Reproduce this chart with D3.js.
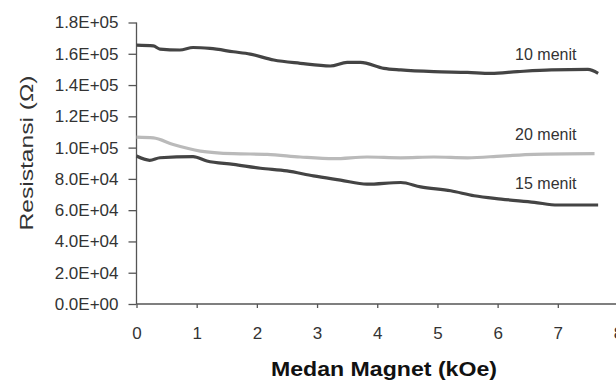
<!DOCTYPE html>
<html>
<head>
<meta charset="utf-8">
<script src="https://cdn.jsdelivr.net/npm/d3@7"></script>
<style>
  body { margin: 0; background: #fff; }
  svg { font-family: "Liberation Sans", Arial, sans-serif; }
  .axis path, .axis line { stroke: #555; stroke-width: 1.3; }
  .axis text { fill: #333; font-size: 17px; }
</style>
</head>
<body>
<div id="chart"></div>
<script>
const chart_width = 616;
const chart_height = 380;

// x values in kOe, y values in ohm
const x_10 = [0, 0.28, 0.39, 0.72, 0.94, 1.22, 1.61, 1.89, 2.28, 2.72, 3.22, 3.5, 3.72, 4.11, 4.39, 4.94, 5.5, 5.89, 6.33, 6.89, 7.5, 7.67];
const y_10 = [165500, 165000, 163000, 162400, 164000, 163400, 161300, 159800, 156000, 153900, 152200, 154500, 154500, 150700, 149700, 148600, 148100, 147500, 148600, 149700, 150000, 147500];

const x_15 = [0, 0.22, 0.39, 0.94, 1.17, 1.61, 2.06, 2.5, 2.94, 3.39, 3.83, 4.39, 4.72, 5.22, 5.61, 6.06, 6.61, 7.0, 7.67];
const y_15 = [94600, 91900, 93500, 94200, 91400, 89300, 86800, 85100, 81900, 79200, 76600, 77700, 74900, 72400, 69200, 67100, 65000, 63300, 63300];

const x_20 = [0, 0.28, 0.61, 1.06, 1.61, 2.17, 2.72, 3.28, 3.83, 4.39, 4.94, 5.5, 6.06, 6.61, 7.61];
const y_20 = [106700, 106200, 102000, 97800, 96100, 95700, 94000, 92900, 94000, 93500, 94000, 93500, 94600, 95700, 96100];

const x_ticks = [0, 1, 2, 3, 4, 5, 6, 7, 8];
const y_ticks = [0, 20000, 40000, 60000, 80000, 100000, 120000, 140000, 160000, 180000];

const series = [
    { name: '10 menit', xs: x_10, ys: y_10, color: '#444', lx: 6.8, ly: 156200 },
    { name: '20 menit', xs: x_20, ys: y_20, color: '#bababa', lx: 6.8, ly: 104800 },
    { name: '15 menit', xs: x_15, ys: y_15, color: '#444', lx: 6.8, ly: 73700 }
];

const svg = d3.select('#chart')
    .append('svg')
    .attr('width', chart_width)
    .attr('height', chart_height);

const x_scale = d3.scaleLinear()
    .domain([0, 8])
    .range([136.5, 618]);

const y_scale = d3.scaleLinear()
    .domain([0, 180000])
    .range([304, 22.5]);

//--------------------------------------------------------------------
// axes
const y_axis = d3.axisLeft(y_scale)
    .tickValues(y_ticks)
    .tickSize(8)
    .tickPadding(10)
    .tickFormat(d => {
        const m = d3.format('.1e')(d).toUpperCase().split('E'); // 1.8E+5
        const exp = +m[1];
        return m[0] + 'E' + (exp < 0 ? '-' : '+') + String(Math.abs(exp)).padStart(2, '0');
    });

svg.append('g')
    .attr('class', 'axis')
    .attr('transform', 'translate(136.5,0)')
    .call(y_axis)
    .call(g => g.select('.domain').attr('d', 'M0,' + y_scale(180000) + 'V' + y_scale(0)));

const x_axis = d3.axisBottom(x_scale)
    .tickValues(x_ticks)
    .tickSize(4)
    .tickPadding(19);

svg.append('g')
    .attr('class', 'axis')
    .attr('transform', 'translate(0,304)')
    .call(x_axis)
    .call(g => g.select('.domain').attr('d', 'M' + x_scale(0) + ',0H616'));

//--------------------------------------------------------------------
// lines
const line = d3.line()
    .x(d => x_scale(d[0]))
    .y(d => y_scale(d[1]))
    .curve(d3.curveMonotoneX);

series.forEach(s => {
    const pts = s.xs.map((x, i) => [x, s.ys[i]]);
    svg.append('path')
        .datum(pts)
        .attr('fill', 'none')
        .attr('stroke', s.color)
        .attr('stroke-width', 3.2)
        .attr('stroke-linejoin', 'round')
        .attr('d', line);

    svg.append('text')
        .attr('x', x_scale(s.lx))
        .attr('y', y_scale(s.ly))
        .attr('text-anchor', 'middle')
        .attr('font-size', 16)
        .attr('fill', '#333')
        .text(s.name);
});

//--------------------------------------------------------------------
// titles
svg.append('text')
    .attr('transform', 'translate(33,153) rotate(-90)')
    .attr('text-anchor', 'middle')
    .attr('font-size', 18)
    .attr('textLength', 155)
    .attr('lengthAdjust', 'spacingAndGlyphs')
    .attr('fill', '#333')
    .text('Resistansi (Ω)');

svg.append('text')
    .attr('x', 384)
    .attr('y', 376)
    .attr('text-anchor', 'middle')
    .attr('font-size', 21)
    .attr('font-weight', 'bold')
    .attr('textLength', 226)
    .attr('lengthAdjust', 'spacingAndGlyphs')
    .attr('fill', '#111')
    .text('Medan Magnet (kOe)');
</script>
</body>
</html>
